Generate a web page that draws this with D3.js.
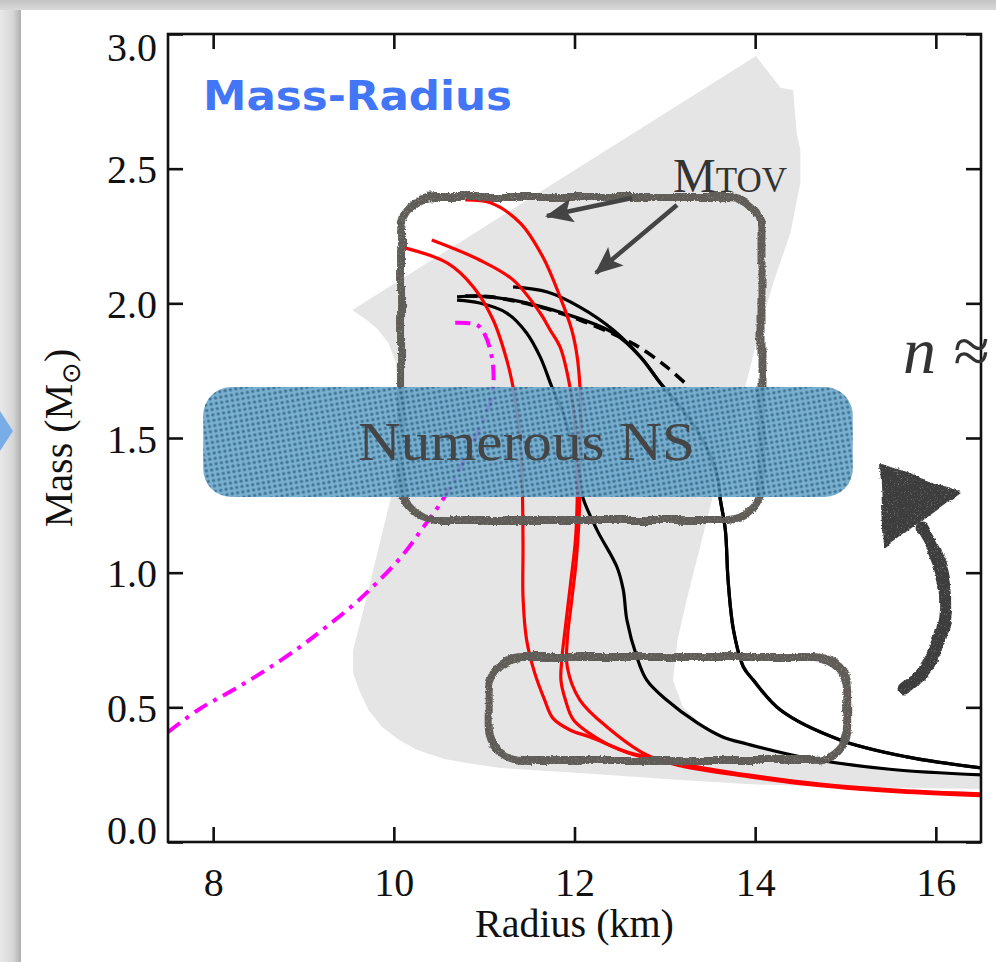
<!DOCTYPE html>
<html>
<head>
<meta charset="utf-8">
<script src="https://cdn.jsdelivr.net/npm/d3@7"></script>
<style>
  html, body { margin: 0; padding: 0; background: #fff; overflow: hidden; }
  svg { display: block; }
</style>
</head>
<body>
<svg id="chart" width="996" height="962"></svg>
<script>
// ---------------- data (radius in km, mass in solar masses) ----------------
const radiusTicks = [8, 10, 12, 14, 16];
const massTicks = [0.0, 0.5, 1.0, 1.5, 2.0, 2.5, 3.0];

// red EoS sequences
const redCurveA = [[10.12,2.206],[10.59,2.150],[10.88,2.061],[11.10,1.938],[11.25,1.790],[11.32,1.689],[11.39,1.530],[11.42,1.344],[11.43,1.100],[11.43,0.910],[11.47,0.750],[11.56,0.627],[11.67,0.527],[11.76,0.460],[11.95,0.416],[12.17,0.390],[12.62,0.330],[12.87,0.312],[13.17,0.286],[13.94,0.245],[14.72,0.212],[15.60,0.189],[16.50,0.175]];
const redCurveB = [[10.42,2.235],[10.95,2.161],[11.32,2.087],[11.62,1.964],[11.73,1.901],[11.84,1.838],[11.95,1.689],[12.01,1.530],[12.03,1.344],[12.03,1.270],[12.01,1.120],[11.96,0.970],[11.90,0.800],[11.86,0.680],[11.85,0.600],[11.90,0.527],[11.99,0.453],[12.28,0.379],[12.58,0.332],[12.95,0.300],[13.17,0.289],[13.94,0.248],[14.72,0.215],[15.60,0.192],[16.50,0.179]];
const redCurveC = [[10.79,2.384],[11.07,2.373],[11.40,2.298],[11.65,2.172],[11.84,2.024],[11.97,1.901],[12.03,1.801],[12.06,1.689],[12.07,1.530],[12.06,1.344],[12.05,1.196],[12.02,1.047],[11.97,0.899],[11.92,0.750],[11.92,0.650],[12.06,0.527],[12.36,0.427],[12.80,0.323],[13.17,0.283],[13.94,0.242],[14.72,0.209],[15.60,0.186],[16.50,0.172]];

// black EoS sequences
const blackCurveA = [[10.70,2.012],[10.95,2.001],[11.25,1.964],[11.47,1.890],[11.62,1.801],[11.75,1.689],[11.90,1.567],[12.01,1.418],[12.09,1.281],[12.25,1.158],[12.47,1.021],[12.54,0.936],[12.58,0.824],[12.69,0.687],[12.80,0.601],[13.02,0.527],[13.36,0.442],[13.64,0.390],[13.91,0.364],[14.57,0.312],[15.49,0.270],[16.50,0.249]];
const blackCurveB = [[10.70,2.024],[10.95,2.027],[11.32,2.012],[11.87,1.964],[12.43,1.890],[12.73,1.801],[12.95,1.704],[13.28,1.567],[13.50,1.437],[13.59,1.344],[13.61,1.281],[13.67,1.158],[13.70,0.973],[13.76,0.787],[13.87,0.650],[13.98,0.601],[14.28,0.490],[14.94,0.379],[15.68,0.316],[16.50,0.275]];
const blackCurveC = [[11.32,2.061],[11.70,2.042],[12.06,1.986],[12.43,1.901],[12.73,1.801],[12.95,1.704],[13.28,1.567],[13.50,1.437],[13.59,1.344],[13.61,1.281],[13.67,1.158],[13.70,0.973],[13.76,0.787],[13.87,0.650],[13.98,0.601],[14.28,0.490],[14.94,0.379],[15.68,0.316],[16.50,0.275]];
const blackDashed = [[10.79,2.027],[11.07,2.024],[11.62,1.986],[12.06,1.938],[12.50,1.875],[12.73,1.834],[13.02,1.764],[13.26,1.693]];

// magenta dash-dot sequence
const magentaCurve = [[7.50,0.408],[7.85,0.494],[8.22,0.564],[8.60,0.642],[8.96,0.724],[9.18,0.780],[9.55,0.880],[9.81,0.962],[10.10,1.066],[10.32,1.166],[10.54,1.270],[10.79,1.426],[10.95,1.537],[11.06,1.623],[11.10,1.689],[11.09,1.790],[11.01,1.882],[10.92,1.920],[10.62,1.927]];

// shaded allowed region (outline)
const bandOutline = [[14.01,2.918],[14.28,2.800],[14.42,2.792],[14.46,2.632],[14.50,2.569],[14.50,2.447],[14.39,2.261],[14.20,2.076],[14.05,1.901],[13.89,1.689],[13.72,1.493],[13.53,1.281],[13.39,1.095],[13.25,0.910],[13.14,0.750],[13.09,0.601],[13.20,0.501],[13.47,0.416],[14.02,0.353],[14.75,0.304],[15.68,0.267],[16.50,0.241],[16.50,0.197],[14.94,0.204],[13.91,0.215],[13.17,0.230],[12.06,0.256],[11.18,0.275],[10.81,0.293],[10.56,0.308],[10.26,0.342],[10.06,0.379],[9.87,0.427],[9.72,0.490],[9.62,0.561],[9.55,0.627],[9.55,0.713],[9.70,0.910],[9.88,1.158],[10.04,1.381],[10.05,1.641],[10.02,1.782],[9.94,1.853],[9.82,1.905],[9.70,1.938],[9.54,1.975]];

// annotation extents
const topBox = { r0: 10.08, r1: 14.07, m0: 1.196, m1: 2.395 };
const lowBox = { r0: 11.05, r1: 15.03, m0: 0.304, m1: 0.687 };
const nsStrip = { r0: 7.89, r1: 15.08, m0: 1.281, m1: 1.689 };

// ---------------- drawing ----------------
const svg = d3.select("#chart");
const W = 996, H = 962;
const x = d3.scaleLinear().domain([7.5, 16.5]).range([168, 981]);
const y = d3.scaleLinear().domain([0, 3]).range([842, 34]);

const defs = svg.append("defs");

// rough chalk stroke: slow wobble, ragged edge, a few gaps in the pigment
const chalk = defs.append("filter").attr("id", "chalk")
  .attr("x", "-10%").attr("y", "-10%").attr("width", "120%").attr("height", "120%");
chalk.append("feTurbulence").attr("type", "fractalNoise").attr("baseFrequency", 0.035)
  .attr("numOctaves", 2).attr("seed", 3).attr("result", "wob");
chalk.append("feDisplacementMap").attr("in", "SourceGraphic").attr("in2", "wob")
  .attr("scale", 6).attr("xChannelSelector", "R").attr("yChannelSelector", "G").attr("result", "d1");
chalk.append("feTurbulence").attr("type", "fractalNoise").attr("baseFrequency", 0.6)
  .attr("numOctaves", 2).attr("seed", 5).attr("result", "fine");
chalk.append("feDisplacementMap").attr("in", "d1").attr("in2", "fine")
  .attr("scale", 2.5).attr("xChannelSelector", "R").attr("yChannelSelector", "G").attr("result", "d2");
chalk.append("feTurbulence").attr("type", "fractalNoise").attr("baseFrequency", 1.3)
  .attr("numOctaves", 1).attr("seed", 9).attr("result", "grain");
chalk.append("feColorMatrix").attr("in", "grain").attr("type", "matrix")
  .attr("values", "0 0 0 0 0  0 0 0 0 0  0 0 0 0 0  0 0 0 -1.6 1.95").attr("result", "mask");
chalk.append("feComposite").attr("in", "d2").attr("in2", "mask").attr("operator", "in");

// halftone dots for the NS strip
const dots = defs.append("pattern").attr("id", "dots")
  .attr("width", 5.4).attr("height", 5.4).attr("patternUnits", "userSpaceOnUse")
  .attr("patternTransform", "rotate(-10)");
dots.append("rect").attr("width", 5.4).attr("height", 5.4).attr("fill", "#6aa6ca");
dots.append("circle").attr("cx", 2.7).attr("cy", 2.7).attr("r", 1.65).attr("fill", "#2b6689");

// arrow head for the M_TOV pointers
defs.append("marker").attr("id", "head").attr("markerUnits", "userSpaceOnUse")
  .attr("markerWidth", 30).attr("markerHeight", 26).attr("refX", 26).attr("refY", 12)
  .attr("orient", "auto")
  .append("path").attr("d", "M0,0 L28,12 L0,24 L6,12 Z").attr("fill", "#444");

// page shadows
const sh = defs.append("linearGradient").attr("id", "leftShade").attr("x1", 0).attr("x2", 1);
sh.append("stop").attr("offset", "0%").attr("stop-color", "#e9e9e9");
sh.append("stop").attr("offset", "60%").attr("stop-color", "#d6d6d6");
sh.append("stop").attr("offset", "100%").attr("stop-color", "#a9a9a9");
const tsh = defs.append("linearGradient").attr("id", "topShade").attr("x1", 0).attr("x2", 0).attr("y1", 0).attr("y2", 1);
tsh.append("stop").attr("offset", "0%").attr("stop-color", "#c4c4c4");
tsh.append("stop").attr("offset", "100%").attr("stop-color", "#d9d9d9");

svg.append("rect").attr("width", W).attr("height", H).attr("fill", "#e6e6e6");
svg.append("rect").attr("x", 0).attr("y", 0).attr("width", 22).attr("height", H).attr("fill", "url(#leftShade)");
svg.append("rect").attr("x", 0).attr("y", 0).attr("width", W).attr("height", 10).attr("fill", "url(#topShade)");
svg.append("path").attr("d", "M0,411 L13,431 L0,451 Z").attr("fill", "#78ade8");
svg.append("rect").attr("x", 21).attr("y", 10).attr("width", W - 21).attr("height", H - 10).attr("fill", "#fff");

// plot clip
defs.append("clipPath").attr("id", "plotClip").append("rect")
  .attr("x", 168).attr("y", 34).attr("width", 813).attr("height", 808);

const plot = svg.append("g").attr("clip-path", "url(#plotClip)");

// shaded region
plot.append("path")
  .datum(bandOutline)
  .attr("d", d3.line().x(d => x(d[0])).y(d => y(d[1])).curve(d3.curveLinearClosed))
  .attr("fill", "#e5e5e5");

const line = d3.line().x(d => x(d[0])).y(d => y(d[1])).curve(d3.curveCatmullRom.alpha(0.5));

const curves = [
  { data: magentaCurve, color: "#ff00ff", width: 4, dash: "15,7,4,7" },
  { data: blackCurveA, color: "#000", width: 3.2 },
  { data: blackCurveB, color: "#000", width: 3.2 },
  { data: blackCurveC, color: "#000", width: 3.2 },
  { data: blackDashed, color: "#000", width: 3.6, dash: "12,7" },
  { data: redCurveA, color: "#ff0000", width: 3.2 },
  { data: redCurveB, color: "#ff0000", width: 3.2 },
  { data: redCurveC, color: "#ff0000", width: 3.2 }
];
plot.selectAll("path.eos").data(curves).join("path")
  .attr("class", "eos")
  .attr("d", d => line(d.data))
  .attr("fill", "none")
  .attr("stroke", d => d.color)
  .attr("stroke-width", d => d.width)
  .attr("stroke-dasharray", d => d.dash || null)
  .attr("stroke-linejoin", "round");

// hand-drawn rounded boxes
const boxes = [topBox, lowBox];
svg.selectAll("rect.box").data(boxes).join("rect")
  .attr("class", "box")
  .attr("x", d => x(d.r0)).attr("y", d => y(d.m1))
  .attr("width", d => x(d.r1) - x(d.r0)).attr("height", d => y(d.m0) - y(d.m1))
  .attr("rx", 34).attr("ry", 34)
  .attr("fill", "none").attr("stroke", "#615d58").attr("stroke-width", 8)
  .attr("filter", "url(#chalk)");

// axes frame and ticks
const axisG = svg.append("g").attr("font-family", "'Liberation Serif', 'Times New Roman', serif");
const styleAxis = g => {
  g.select(".domain").remove();
  g.selectAll(".tick line").attr("stroke", "#111").attr("stroke-width", 2.6);
};
axisG.append("g").attr("transform", "translate(0,842)")
  .call(d3.axisBottom(x).tickValues(radiusTicks).tickSize(-15).tickFormat(d3.format("d")))
  .call(styleAxis)
  .call(g => g.selectAll(".tick text").attr("y", 54).attr("dy", 0)
    .attr("font-size", 40).attr("fill", "#111").attr("font-family", "'Liberation Serif', serif"));
axisG.append("g").attr("transform", "translate(0,34)")
  .call(d3.axisTop(x).tickValues(radiusTicks).tickSize(-15).tickFormat(""))
  .call(styleAxis);
axisG.append("g").attr("transform", "translate(168,0)")
  .call(d3.axisLeft(y).tickValues(massTicks).tickSize(-15).tickFormat(d3.format(".1f")))
  .call(styleAxis)
  .call(g => g.selectAll(".tick text")
    .attr("x", -11).attr("dy", 0)
    .attr("y", d => d === 3 ? 26 : d === 0 ? 1 : 14)
    .attr("font-size", 40).attr("fill", "#111").attr("font-family", "'Liberation Serif', serif"));
axisG.append("g").attr("transform", "translate(981,0)")
  .call(d3.axisRight(y).tickValues(massTicks).tickSize(-15).tickFormat(""))
  .call(styleAxis);
svg.append("rect").attr("x", 168).attr("y", 34).attr("width", 813).attr("height", 808)
  .attr("fill", "none").attr("stroke", "#111").attr("stroke-width", 2.6);

// axis titles
svg.append("text").attr("x", (x.range()[0] + x.range()[1]) / 2).attr("y", 937)
  .attr("text-anchor", "middle").attr("font-family", "'Liberation Serif', serif")
  .attr("font-size", 40).attr("fill", "#111").text("Radius (km)");
const yTitle = svg.append("text")
  .attr("transform", `translate(72,${(y.range()[0] + y.range()[1]) / 2}) rotate(-90)`)
  .attr("text-anchor", "middle").attr("font-family", "'Liberation Serif', serif")
  .attr("font-size", 40).attr("fill", "#111");
yTitle.append("tspan").text("Mass (M");
yTitle.append("tspan").attr("dy", 8).attr("font-size", 26).attr("font-family", "'DejaVu Sans', sans-serif").text("⊙");
yTitle.append("tspan").attr("dy", -8).text(")");

// panel title
svg.append("text").attr("x", 203).attr("y", 110)
  .attr("font-family", "'DejaVu Sans', Verdana, sans-serif").attr("font-weight", "bold")
  .attr("font-size", 41).attr("fill", "#4276f6")
  .attr("textLength", 309).attr("lengthAdjust", "spacingAndGlyphs")
  .text("Mass-Radius");

// M_TOV label with pointers
const mtov = svg.append("text").attr("x", 673).attr("y", 192)
  .attr("font-family", "'Liberation Serif', serif").attr("fill", "#333");
mtov.append("tspan").attr("font-size", 48).text("M");
mtov.append("tspan").attr("font-size", 35).text("TOV");
const pointers = [
  { from: [632, 198], to: [547, 216] },
  { from: [677, 205], to: [596, 273] }
];
svg.selectAll("line.ptr").data(pointers).join("line")
  .attr("class", "ptr")
  .attr("x1", d => d.from[0]).attr("y1", d => d.from[1])
  .attr("x2", d => d.to[0]).attr("y2", d => d.to[1])
  .attr("stroke", "#444").attr("stroke-width", 4.5)
  .attr("marker-end", "url(#head)");

// "Numerous NS" strip
const strip = svg.append("g").attr("opacity", 0.9);
strip.append("rect")
  .attr("x", x(nsStrip.r0)).attr("y", y(nsStrip.m1))
  .attr("width", x(nsStrip.r1) - x(nsStrip.r0)).attr("height", y(nsStrip.m0) - y(nsStrip.m1))
  .attr("rx", 28).attr("ry", 28).attr("fill", "url(#dots)");
svg.append("text").attr("x", 358).attr("y", 460)
  .attr("font-family", "'Liberation Serif', serif").attr("font-size", 54)
  .attr("fill", "#454545").attr("textLength", 337).attr("lengthAdjust", "spacingAndGlyphs")
  .text("Numerous NS");

// density note (runs off the right edge)
svg.append("text").attr("x", 903).attr("y", 373)
  .attr("font-family", "'Liberation Serif', serif").attr("font-style", "italic")
  .attr("font-size", 66).attr("fill", "#333").text("n ≈");

// curved upward arrow
const bigArrow = svg.append("g").attr("filter", "url(#chalk)").attr("fill", "#3c3c3c");
bigArrow.append("path")
  .attr("d", "M905,688 C948,655 962,590 922,528")
  .attr("fill", "none").attr("stroke", "#3c3c3c").attr("stroke-width", 13).attr("stroke-linecap", "round");
bigArrow.append("path").attr("d", "M880,464 L961,492 L884,548 Z");
</script>
</body>
</html>
